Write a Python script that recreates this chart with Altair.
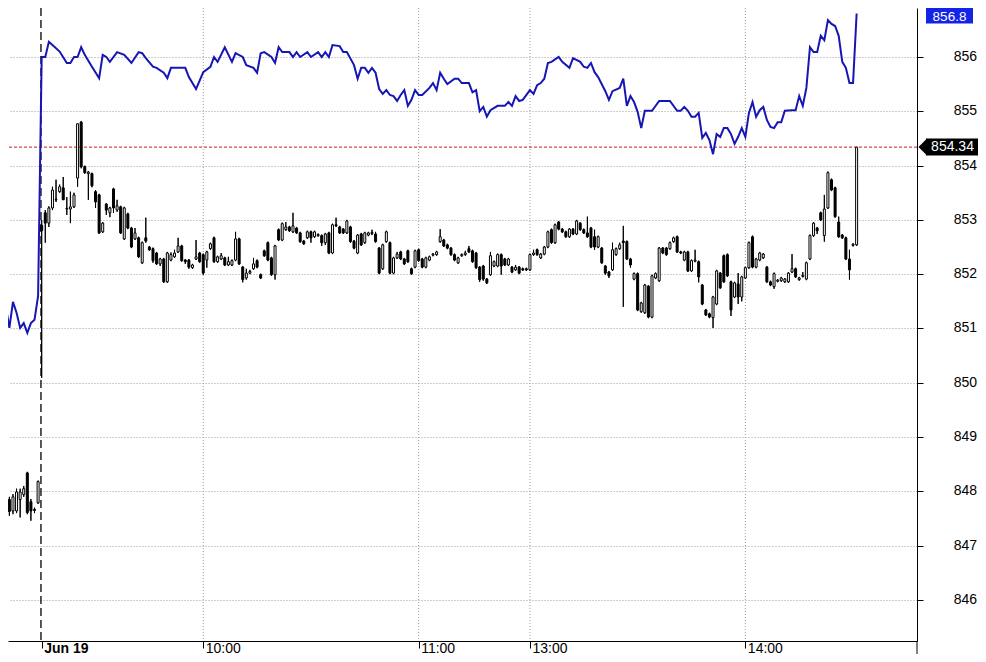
import altair as alt
import pandas as pd

# ---------------- data (1-minute candles; index 0 = 09:15 on Jun 19) ----------------
FIRST_INDEX = -10

opens = [
    847.53, 847.85, 847.64, 847.64, 847.85, 847.94, 848.34, 847.81, 847.67, 847.79,
    852.90, 853.13, 852.94, 853.22, 853.37, 853.52, 853.59, 853.20, 853.20, 853.24,
    853.77, 854.80, 853.98, 853.85, 853.85, 853.52, 853.46, 852.78, 853.29, 853.13,
    853.57, 853.18, 853.24, 852.65, 853.11, 852.85, 852.65, 852.67, 852.21, 852.67,
    852.50, 852.47, 852.39, 852.19, 852.28, 851.86, 852.26, 852.32, 852.41, 852.52,
    852.26, 852.26, 852.12, 852.28, 852.39, 852.36, 852.26, 852.47, 852.67, 852.23,
    852.28, 852.30, 852.17, 852.17, 852.26, 852.65, 852.13, 851.93, 852.02, 852.10,
    852.25, 851.99, 852.43, 852.58, 852.30, 851.99, 852.82, 852.63, 852.82, 852.87,
    852.78, 852.85, 852.76, 852.61, 852.67, 852.78, 852.69, 852.71, 852.71, 852.58,
    852.76, 852.39, 852.91, 852.87, 852.83, 852.76, 852.87, 852.61, 852.39, 852.74,
    852.58, 852.72, 852.75, 852.74, 852.48, 852.10, 852.60, 852.58, 852.02, 852.30,
    852.41, 852.28, 852.43, 852.10, 852.13, 852.45, 852.28, 852.13, 852.26, 852.35,
    852.36, 852.60, 852.63, 852.54, 852.48, 852.36, 852.21, 852.34, 852.36, 852.47,
    852.43, 852.39, 852.13, 852.15, 851.91, 851.99, 852.15, 852.15, 852.36, 852.28,
    852.17, 852.13, 852.08, 852.13, 852.10, 852.10, 852.08, 852.36, 852.45, 852.30,
    852.37, 852.50, 852.82, 852.58, 852.96, 852.83, 852.78, 852.69, 852.83, 852.74,
    852.94, 852.82, 852.76, 852.85, 852.69, 852.50, 852.48, 852.15, 852.04, 852.08,
    852.36, 852.47, 852.61, 852.60, 852.28, 851.91, 852.01, 851.31, 851.29, 851.78,
    851.21, 851.93, 851.88, 852.48, 852.48, 852.47, 852.60, 852.69, 852.41, 852.26,
    852.41, 852.06, 852.24, 852.23, 851.80, 851.34, 851.27, 851.20, 851.45, 852.02,
    852.34, 852.36, 851.86, 851.58, 851.82, 851.58, 851.93, 852.12, 852.69, 852.13,
    852.26, 852.30, 852.13, 851.86, 851.77, 851.87, 851.88, 851.86, 851.86, 852.04,
    852.10, 851.90, 851.96, 851.91, 852.28, 852.71, 852.85, 853.13, 852.71, 853.22,
    853.74, 853.59, 852.96, 852.72, 852.67, 852.28, 852.53, 852.54,
]
highs = [
    847.89, 847.90, 847.95, 848.05, 848.05, 848.10, 848.36, 847.86, 847.70, 848.20,
    853.00, 853.18, 853.25, 853.61, 853.74, 853.65, 853.79, 853.42, 853.52, 853.50,
    854.77, 854.82, 854.00, 853.90, 853.87, 853.55, 853.48, 852.96, 853.31, 853.24,
    853.59, 853.37, 853.26, 853.24, 853.13, 852.87, 852.85, 852.69, 852.60, 853.04,
    852.52, 852.49, 852.41, 852.30, 852.30, 852.41, 852.40, 852.45, 852.67, 852.54,
    852.28, 852.28, 852.19, 852.63, 852.41, 852.38, 852.43, 852.58, 852.69, 852.34,
    852.39, 852.32, 852.32, 852.27, 852.78, 852.67, 852.15, 852.10, 852.08, 852.30,
    852.27, 852.01, 852.45, 852.60, 852.32, 852.54, 852.84, 852.95, 852.96, 852.89,
    853.13, 852.87, 852.78, 852.63, 852.80, 852.80, 852.80, 852.75, 852.73, 852.76,
    852.78, 852.93, 853.04, 852.89, 852.85, 853.00, 852.89, 852.63, 852.74, 852.76,
    852.78, 852.78, 852.82, 852.78, 852.50, 852.56, 852.80, 852.60, 852.32, 852.41,
    852.43, 852.30, 852.45, 852.12, 852.45, 852.47, 852.30, 852.32, 852.34, 852.39,
    852.43, 852.83, 852.65, 852.56, 852.50, 852.38, 852.32, 852.38, 852.43, 852.52,
    852.45, 852.41, 852.15, 852.17, 851.93, 852.41, 852.25, 852.38, 852.38, 852.30,
    852.30, 852.15, 852.17, 852.15, 852.12, 852.12, 852.38, 852.45, 852.47, 852.39,
    852.52, 852.80, 852.84, 852.93, 852.98, 852.85, 852.80, 852.85, 852.85, 853.00,
    852.96, 852.84, 853.06, 852.87, 852.82, 852.71, 852.50, 852.17, 852.06, 852.58,
    852.49, 852.58, 852.89, 852.62, 852.30, 852.03, 852.03, 851.49, 851.82, 851.80,
    851.99, 852.03, 852.50, 852.50, 852.50, 852.60, 852.69, 852.71, 852.43, 852.43,
    852.43, 852.27, 852.45, 852.25, 851.82, 851.36, 851.29, 851.60, 852.08, 852.04,
    852.36, 852.38, 851.88, 851.86, 852.02, 851.97, 852.14, 852.60, 852.71, 852.30,
    852.41, 852.39, 852.15, 851.88, 852.03, 851.91, 851.95, 851.93, 852.04, 852.37,
    852.12, 851.95, 852.04, 852.23, 852.73, 852.96, 852.87, 853.15, 853.46, 853.89,
    853.76, 853.61, 853.06, 852.74, 852.69, 852.45, 852.57, 854.34,
]
lows = [
    847.48, 847.55, 847.58, 847.60, 847.52, 847.90, 847.58, 847.46, 847.60, 847.77,
    850.09, 852.58, 852.87, 853.18, 853.33, 853.50, 853.37, 853.09, 852.94, 853.22,
    853.61, 853.95, 853.85, 853.37, 853.60, 853.22, 852.74, 852.76, 853.09, 853.05,
    853.13, 853.15, 852.74, 852.63, 852.83, 852.48, 852.63, 852.30, 852.19, 852.58,
    852.43, 852.21, 852.17, 852.15, 851.84, 851.84, 852.24, 852.30, 852.39, 852.23,
    852.19, 852.10, 852.10, 852.26, 852.21, 851.99, 852.12, 852.45, 852.21, 852.21,
    852.26, 852.15, 852.15, 852.15, 852.24, 852.17, 851.85, 851.90, 852.00, 852.08,
    852.11, 851.91, 852.32, 852.24, 851.97, 851.90, 852.61, 852.61, 852.80, 852.78,
    852.76, 852.74, 852.58, 852.54, 852.65, 852.58, 852.67, 852.69, 852.52, 852.54,
    852.37, 852.37, 852.87, 852.74, 852.74, 852.74, 852.58, 852.46, 852.37, 852.52,
    852.56, 852.70, 852.72, 852.58, 852.00, 852.08, 852.58, 852.00, 852.00, 852.28,
    852.26, 852.17, 852.21, 851.99, 852.11, 852.23, 852.11, 852.11, 852.24, 852.33,
    852.34, 852.58, 852.50, 852.46, 852.34, 852.24, 852.19, 852.32, 852.34, 852.39,
    852.21, 852.10, 851.86, 851.88, 851.82, 851.97, 852.13, 852.13, 851.99, 852.15,
    852.15, 852.02, 852.06, 852.00, 852.06, 852.06, 852.06, 852.34, 852.34, 852.28,
    852.35, 852.48, 852.56, 852.56, 852.81, 852.76, 852.67, 852.67, 852.72, 852.72,
    852.80, 852.74, 852.67, 852.48, 852.45, 852.48, 852.19, 851.99, 851.93, 852.06,
    852.34, 852.45, 851.40, 852.26, 852.12, 851.89, 851.32, 851.29, 851.27, 851.19,
    851.19, 851.91, 851.86, 852.37, 852.34, 852.45, 852.58, 852.39, 852.37, 852.24,
    852.04, 852.04, 852.22, 851.85, 851.43, 851.23, 851.19, 851.01, 851.43, 851.73,
    851.84, 851.95, 851.23, 851.56, 851.45, 851.50, 851.91, 852.10, 852.11, 852.11,
    852.24, 852.28, 851.84, 851.78, 851.73, 851.85, 851.86, 851.84, 851.84, 852.02,
    851.93, 851.88, 851.94, 851.89, 852.26, 852.69, 852.74, 852.98, 852.60, 853.20,
    853.53, 853.04, 852.67, 852.65, 852.26, 851.90, 852.51, 852.52,
]
closes = [
    847.85, 847.63, 847.90, 847.99, 847.99, 848.05, 847.61, 847.64, 847.65, 848.18,
    852.80, 852.94, 853.22, 853.55, 853.38, 853.61, 853.37, 853.21, 853.24, 853.46,
    854.77, 853.98, 853.87, 853.88, 853.63, 853.33, 852.76, 852.94, 853.18, 853.22,
    853.22, 853.26, 852.76, 853.22, 852.85, 852.50, 852.76, 852.32, 852.58, 852.61,
    852.45, 852.25, 852.19, 852.28, 851.86, 852.39, 852.36, 852.39, 852.52, 852.25,
    852.23, 852.13, 852.17, 852.32, 852.23, 852.02, 852.41, 852.56, 852.23, 852.32,
    852.34, 852.17, 852.23, 852.25, 852.65, 852.19, 851.90, 852.02, 852.05, 852.19,
    852.13, 851.93, 852.34, 852.26, 851.99, 852.52, 852.63, 852.93, 852.87, 852.80,
    852.89, 852.76, 852.60, 852.56, 852.78, 852.67, 852.78, 852.73, 852.58, 852.74,
    852.39, 852.91, 852.89, 852.76, 852.76, 852.98, 852.60, 852.48, 852.72, 852.54,
    852.76, 852.76, 852.77, 852.60, 852.02, 852.54, 852.78, 852.02, 852.30, 852.37,
    852.28, 852.19, 852.23, 852.01, 852.43, 852.25, 852.13, 852.30, 852.32, 852.37,
    852.41, 852.69, 852.52, 852.48, 852.36, 852.26, 852.30, 852.36, 852.39, 852.41,
    852.23, 852.12, 851.90, 851.91, 851.84, 852.34, 852.23, 852.36, 852.15, 852.17,
    852.28, 852.04, 852.13, 852.02, 852.08, 852.08, 852.36, 852.39, 852.36, 852.37,
    852.50, 852.78, 852.58, 852.91, 852.83, 852.78, 852.69, 852.83, 852.74, 852.98,
    852.82, 852.76, 852.69, 852.50, 852.50, 852.69, 852.21, 852.02, 851.97, 852.45,
    852.47, 852.54, 852.58, 852.28, 852.17, 852.01, 851.34, 851.47, 851.80, 851.21,
    851.97, 852.01, 852.48, 852.39, 852.36, 852.58, 852.67, 852.41, 852.39, 852.41,
    852.06, 852.25, 852.26, 851.95, 851.45, 851.25, 851.21, 851.58, 852.06, 851.75,
    851.86, 851.97, 851.34, 851.84, 851.58, 851.95, 852.12, 852.58, 852.13, 852.28,
    852.39, 852.37, 851.86, 851.80, 852.01, 851.89, 851.93, 851.91, 852.02, 852.10,
    851.95, 851.93, 851.98, 852.21, 852.71, 852.94, 852.80, 853.00, 853.20, 853.87,
    853.55, 853.06, 852.69, 852.67, 852.28, 852.08, 852.55, 854.34,
]

# second series (blue line), read at its turning points
blue_idx = [
    -10, -9, -8, -7, -6, -5, -4, -3, -2, -1,
    0, 1, 2, 3, 5, 7, 8, 9, 10, 11,
    12, 14, 16, 17, 18, 19, 21, 23, 25, 27,
    28, 29, 31, 32, 34, 35, 36, 40, 41, 43,
    45, 47, 48, 49, 51, 53, 54, 56, 57, 59,
    60, 61, 62, 64, 65, 66, 67, 69, 70, 71,
    72, 74, 75, 77, 78, 79, 80, 81, 83, 84,
    85, 87, 88, 89, 90, 91, 92, 93, 94, 95,
    96, 97, 98, 99, 100, 101, 102, 103, 104, 105,
    106, 108, 109, 110, 111, 112, 113, 115, 116, 117,
    119, 120, 121, 122, 123, 124, 125, 127, 129, 130,
    131, 132, 133, 134, 136, 137, 138, 139, 140, 141,
    142, 144, 145, 147, 148, 150, 151, 152, 153, 154,
    155, 157, 158, 159, 161, 162, 163, 164, 165, 166,
    167, 168, 170, 172, 175, 177, 178, 179, 180, 181,
    182, 183, 184, 185, 186, 187, 188, 189, 190, 191,
    192, 193, 194, 195, 196, 197, 198, 199, 200, 201,
    202, 203, 204, 205, 206, 207, 209, 210, 211, 212,
    213, 214, 215, 216, 217, 218, 219, 220, 221, 222,
    223, 224, 225, 226, 227,
]
blue_val = [
    851.40, 851.01, 851.49, 851.29, 851.01, 851.10, 850.92, 851.10, 851.16, 851.60,
    856.00, 856.00, 856.28, 856.22, 856.10, 855.89, 855.89, 856.00, 856.00, 856.18,
    856.04, 855.82, 855.61, 856.04, 856.00, 855.91, 856.09, 856.04, 855.89, 856.09,
    856.07, 855.98, 855.82, 855.80, 855.71, 855.61, 855.80, 855.80, 855.63, 855.41,
    855.72, 855.82, 856.00, 855.91, 856.18, 855.91, 856.07, 856.00, 855.85, 855.80,
    855.71, 856.07, 856.09, 856.00, 855.89, 856.18, 856.09, 856.09, 856.00, 856.09,
    856.00, 856.09, 856.00, 856.09, 856.00, 856.09, 856.00, 856.22, 856.20, 856.09,
    856.09, 855.85, 855.60, 855.80, 855.80, 855.71, 855.80, 855.71, 855.41, 855.32,
    855.39, 855.30, 855.28, 855.19, 855.30, 855.39, 855.10, 855.21, 855.39, 855.30,
    855.30, 855.43, 855.52, 855.39, 855.71, 855.60, 855.50, 855.60, 855.60, 855.52,
    855.52, 855.35, 855.39, 855.00, 855.08, 854.90, 855.02, 855.10, 855.10, 855.17,
    855.10, 855.28, 855.19, 855.21, 855.39, 855.32, 855.48, 855.52, 855.60, 855.89,
    855.91, 856.00, 855.91, 855.80, 855.98, 855.91, 855.82, 855.80, 855.89, 855.72,
    855.63, 855.37, 855.21, 855.37, 855.43, 855.60, 855.10, 855.28, 855.17, 854.99,
    854.69, 855.01, 855.01, 855.19, 855.19, 855.01, 855.01, 855.08, 855.01, 854.90,
    854.90, 854.97, 854.51, 854.60, 854.47, 854.21, 854.58, 854.53, 854.69, 854.69,
    854.58, 854.40, 854.53, 854.69, 854.53, 854.97, 855.17, 854.90, 855.02, 855.08,
    854.84, 854.71, 854.69, 854.80, 854.80, 855.01, 855.02, 855.02, 855.28, 855.10,
    855.43, 856.18, 856.09, 856.09, 856.39, 856.31, 856.68, 856.61, 856.57, 856.39,
    855.91, 855.80, 855.52, 855.52, 856.80,
]

tick_idx = [0, 45, 105, 136, 196]
tick_labels = ["Jun 19", "10:00", "11:00", "13:00", "14:00"]
y_ticks = list(range(846, 858))
day_break = -0.2

assert len(opens) == len(highs) == len(lows) == len(closes)
assert len(blue_idx) == len(blue_val)

# ---------------- frames ----------------
candles = pd.DataFrame({
    "i": list(range(FIRST_INDEX, FIRST_INDEX + len(opens))),
    "open": opens, "high": highs, "low": lows, "close": closes,
})
blue = pd.DataFrame({"i": blue_idx, "v": blue_val})
last_close = closes[-1]
last_blue = blue_val[-1]
grid_df = pd.DataFrame({"i": tick_idx[1:]})
lbl_black = pd.DataFrame({"v": [last_close], "t": [f"{last_close:.2f}"]})
lbl_blue = pd.DataFrame({"v": [last_blue], "t": [f"{last_blue:.1f}"]})

FONT = "Liberation Sans"
W, H = 909, 633
Y_LO, Y_HI = 845.245, 856.902
xs = alt.Scale(domain=[-7.99, 242.42], nice=False, zero=False)
ys = alt.Scale(domain=[Y_LO, Y_HI], nice=False, zero=False)
ylab = pd.DataFrame({"v": [v for v in y_ticks if Y_LO <= v <= Y_HI]})
ylab["t"] = ylab["v"].astype(str)

label_expr = " : ".join(
    f"datum.value == {v} ? '{t}'" for v, t in zip(tick_idx, tick_labels)
) + " : ''"

x_axis = alt.Axis(
    values=tick_idx, labelExpr=label_expr, title=None, grid=False,
    domainColor="black", domainWidth=1, tickColor="black", tickSize=7,
    labelAlign="left", labelBaseline="alphabetic", labelPadding=4, labelOffset=2,
    labelFont=FONT, labelFontSize=14, labelColor="black",
    labelFontWeight={"condition": {"test": "datum.value == 0", "value": "bold"}, "value": "normal"},
    labelFlush=False, labelOverlap=False,
)
y_axis = alt.Axis(
    orient="right", values=y_ticks, title=None, labels=False,
    grid=True, gridDash=[1, 2], gridColor="#9c9c9c", gridWidth=1,
    domainColor="black", domainWidth=1, tickColor="black", tickSize=6,
)

base = alt.Chart(candles)

wicks = base.mark_rule(color="black", strokeWidth=1).encode(
    x=alt.X("i:Q", scale=xs, axis=x_axis),
    y=alt.Y("low:Q", scale=ys, axis=y_axis),
    y2="high:Q",
)
bodies = base.mark_bar(size=2, stroke="black", strokeWidth=1).encode(
    x=alt.X("i:Q", scale=xs),
    y=alt.Y("open:Q", scale=ys),
    y2="close:Q",
    fill=alt.condition("datum.close >= datum.open", alt.value("white"), alt.value("black")),
)

vgrid = alt.Chart(grid_df).mark_rule(color="#9c9c9c", strokeDash=[1, 2], strokeWidth=1).encode(
    x=alt.X("i:Q", scale=xs)
)
sep = alt.Chart(pd.DataFrame({"i": [day_break]})).mark_rule(
    color="black", strokeDash=[8, 4], strokeWidth=1.3
).encode(x=alt.X("i:Q", scale=xs))

red = alt.Chart(lbl_black).mark_rule(color="#d01818", strokeDash=[3, 2], strokeWidth=1).encode(
    y=alt.Y("v:Q", scale=ys)
)

blue_line = alt.Chart(blue).mark_line(color="#1616b4", strokeWidth=2).encode(
    x=alt.X("i:Q", scale=xs), y=alt.Y("v:Q", scale=ys)
)

axis_ext = alt.Chart(lbl_black).mark_rule(color="black", strokeWidth=1).encode(
    x=alt.value(W), y=alt.value(H), y2=alt.value(H + 13)
)

y_labels = alt.Chart(ylab).mark_text(
    color="black", font=FONT, fontSize=14, align="right", baseline="middle"
).encode(x=alt.value(W + 60), y=alt.Y("v:Q", scale=ys), text="t:N")

blue_box = alt.Chart(lbl_blue).mark_rule(
    color="#1424e6", strokeWidth=16, strokeCap="butt", yOffset=2
).encode(
    x=alt.value(W + 9), x2=alt.value(W + 56), y=alt.Y("v:Q", scale=ys)
)
blue_txt = alt.Chart(lbl_blue).mark_text(
    color="white", font=FONT, fontSize=13.5, align="center", baseline="middle", dy=3
).encode(x=alt.value(W + 32.5), y=alt.Y("v:Q", scale=ys), text="t:N")

black_box = alt.Chart(lbl_black).mark_rule(color="black", strokeWidth=17, strokeCap="butt").encode(
    x=alt.value(W + 9), x2=alt.value(W + 61), y=alt.Y("v:Q", scale=ys)
)
black_tip = alt.Chart(lbl_black).mark_point(
    shape="M0,-1L-1,0L0,1Z", filled=True, size=289, color="black", opacity=1, strokeWidth=0
).encode(x=alt.value(W + 10), y=alt.Y("v:Q", scale=ys))
black_txt = alt.Chart(lbl_black).mark_text(
    color="white", font=FONT, fontSize=14, align="center", baseline="middle"
).encode(x=alt.value(W + 35.5), y=alt.Y("v:Q", scale=ys), text="t:N")

chart = alt.layer(
    wicks, vgrid, sep, red, blue_line, wicks, bodies, axis_ext, y_labels,
    blue_box, blue_txt, black_box, black_tip, black_txt,
).properties(
    width=W, height=H,
    autosize=alt.AutoSizeParams(type="none"),
    padding={"left": 0, "top": 0, "right": 61, "bottom": 13},
    background="white",
).configure_view(stroke=None)

chart.save("out.html", embed_options={"renderer": "svg", "actions": False})
